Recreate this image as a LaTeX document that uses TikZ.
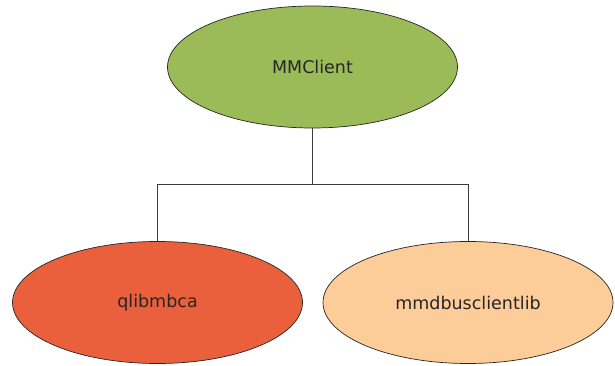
\documentclass[tikz,border=0pt]{standalone}
\usepackage{fontspec}
\setmainfont{DejaVu Sans}
\usetikzlibrary{shapes.geometric}
\definecolor{cgreen}{RGB}{155,187,89}
\definecolor{cred}{RGB}{234,96,61}
\definecolor{cpeach}{RGB}{252,204,153}
\definecolor{cline}{RGB}{60,60,60}
\tikzset{
  ell/.style={ellipse, draw=black!85, line width=0.7pt, minimum width=290pt, minimum height=122pt, inner sep=0pt, font=\fontsize{17.5}{20}\selectfont, text=black!85},
  conn/.style={draw=cline, line width=0.9pt}
}
\begin{document}
\begin{tikzpicture}[x=1pt,y=1pt]
\useasboundingbox (0,0) rectangle (615,366);
\node[ell, fill=cgreen] (mm) at (312.5,299) {MMClient};
\node[ell, fill=cred] (ql) at (157.5,63.5) {qlibmbca};
\node[ell, fill=cpeach] (mb) at (468,63.5) {mmdbusclientlib};
\coordinate (j) at (312.5,182);
\draw[conn] (mm.south) -- (j);
\draw[conn] (j) -| (ql.north);
\draw[conn] (j) -| (mb.north);
\end{tikzpicture}
\end{document}
